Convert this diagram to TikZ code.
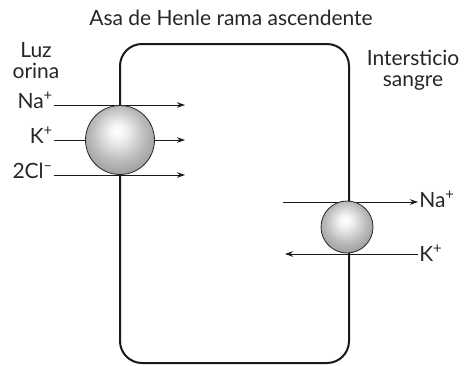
\documentclass[tikz,border=0pt]{standalone}
\usepackage{fontspec}
\setmainfont{Lato}
\usetikzlibrary{arrows.meta}

\pgfdeclareradialshading{sphere}{\pgfpoint{-2bp}{7bp}}{%
    color(0bp)=(white); color(6bp)=(white!95!black);
    color(20bp)=(gray!55); color(30bp)=(gray!80); color(50bp)=(gray!80)}

\begin{document}
\begin{tikzpicture}[
            x = 1pt, y = -1pt, % pixel units, y grows downwards
            > = {Stealth[length=8pt, width=5.5pt]}, % arrow head style
            font = \fontsize{21}{21}\selectfont,
            text = black!85,
            semithick % line style
        ]

        \tikzstyle{ion}=[inner sep = 1pt, anchor = base east]
        \tikzstyle{flux}=[->, line width = 0.9pt, black!90]
        \tikzstyle{carrier}=[
            circle,
            draw = black!85,
            line width = 0.8pt,
            shading = sphere,
            inner sep = 0pt
        ]
        \useasboundingbox (0,0) rectangle (465,365);

        \node[anchor = base] (title) at (231,25) {Asa de Henle rama ascendente};
        \node[align = center, anchor = base] (lumen) at (36,78) {Luz\\orina};
        \node[align = center, anchor = base] (interst) at (413,86) {Intersticio\\sangre};

        \node[ion] (naL) at (54,108) {Na\textsuperscript{+}};
        \node[ion] (kL) at (54,143) {K\textsuperscript{+}};
        \node[ion] (clL) at (54,178) {2Cl\textsuperscript{–}};
        \node[ion, anchor = base west] (naR) at (418,207) {Na\textsuperscript{+}};
        \node[ion, anchor = base west] (kR) at (418,261) {K\textsuperscript{+}};

        % cell outline
        \draw[line width = 2pt, black!90, rounded corners = 22pt] (120,44) rectangle (349,363);

        \coordinate (naE) at (185,105);
        \coordinate (kE) at (185,140);
        \coordinate (clE) at (185,175);
        \coordinate (naS) at (283,202);
        \coordinate (kS) at (285,254);

        \draw[flux] (naL.east |- naE) -- (naE);
        \draw[flux] (kL.east |- kE) -- (kE);
        \draw[flux] (clL.east |- clE) -- (clE);
        \draw[flux] (naS) -- (naR.west |- naS);
        \draw[flux] (kR.west |- kS) -- (kS);

        \node[carrier, minimum size = 69pt] (nkcc) at (120,140) {};
        \node[carrier, minimum size = 52pt] (pump) at (347,227) {};
    \end{tikzpicture}
\end{document}
